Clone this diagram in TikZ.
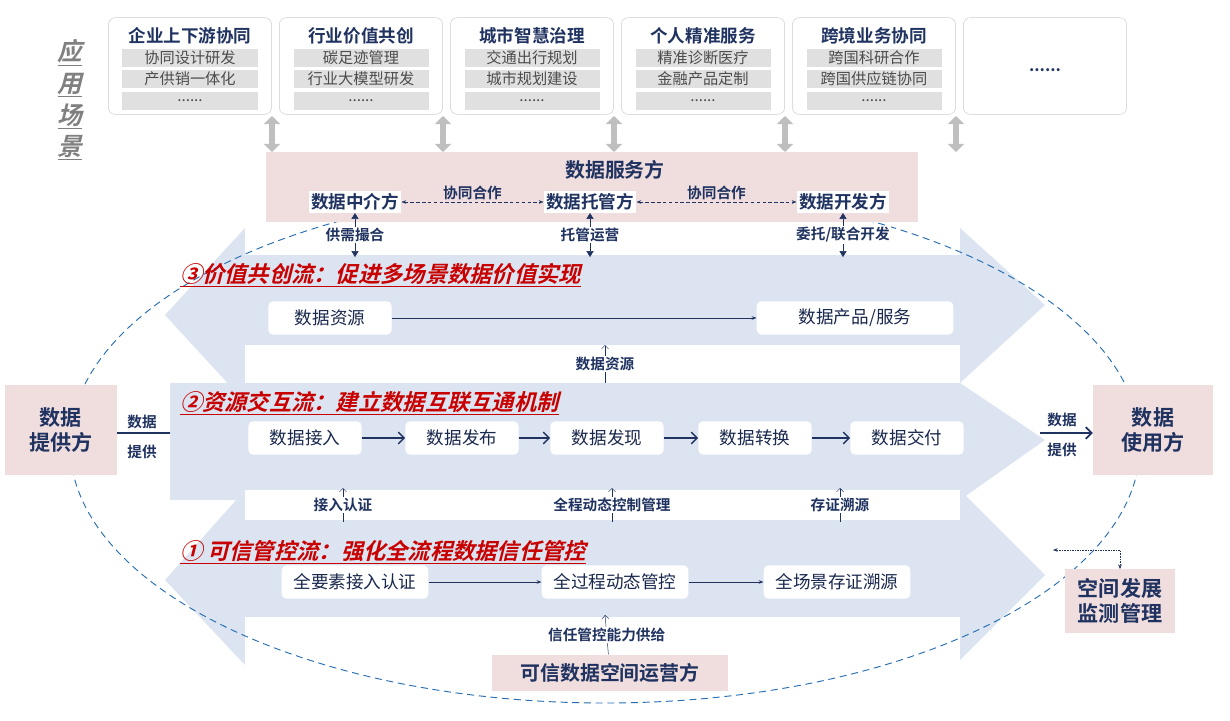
\documentclass[tikz,border=0pt]{standalone}
\usepackage{fontspec}
\setmainfont{Noto Sans CJK SC}[BoldFont={Noto Sans CJK SC Bold},ItalicFont={Noto Sans CJK SC},ItalicFeatures={FakeSlant=0.25},BoldItalicFont={Noto Sans CJK SC Bold},BoldItalicFeatures={FakeSlant=0.25}]
\usetikzlibrary{arrows.meta, positioning}
\definecolor{navy}{RGB}{31,50,96}
\definecolor{bandblue}{RGB}{219,228,240}
\definecolor{rosy}{RGB}{240,222,222}
\definecolor{redtitle}{RGB}{200,0,0}
\definecolor{ringblue}{RGB}{40,110,180}
\tikzset{
  card/.style={draw=black!20, rounded corners=6pt, fill=white, minimum width=4.9cm, minimum height=2.9cm},
  row/.style={fill=black!12, minimum width=4.05cm, minimum height=0.52cm, inner sep=0pt, font=\fontsize{13}{13}\selectfont, text=black!70},
  head/.style={font=\bfseries\fontsize{15}{15}\selectfont, text=navy},
  wbox/.style={fill=white, rounded corners=4pt, minimum height=1.0cm, inner xsep=8pt, font=\fontsize{15}{15}\selectfont, text=navy!80!black},
  rbox/.style={fill=rosy, font=\bfseries\fontsize{18}{21}\selectfont, text=navy, align=center},
  tag/.style={font=\bfseries\fontsize{12.5}{12.5}\selectfont, text=navy, fill=white, inner sep=1pt},
  flowtitle/.style={anchor=west, font=\bfseries\itshape\fontsize{19}{19}\selectfont, text=redtitle},
  role/.style={fill=white, inner sep=2pt, font=\bfseries\fontsize{15}{15}\selectfont, text=navy},
  band/.style={fill=bandblue},
  gap/.style={fill=white}
}
\begin{document}
\begin{tikzpicture}[x=0.03cm, y=-0.03cm]
\useasboundingbox (0,0) rectangle (1230,720);
% bands
\fill[band] (165,315) -- (245,228) -- (960,228) -- (1045,305) -- (960,383) -- (245,383) -- (245,402) -- cycle;
\fill[band] (170,383) -- (960,383) -- (1045,440) -- (960,500) -- (170,500) -- cycle;
\fill[band] (165,580) -- (245,490) -- (960,490) -- (1045,575) -- (960,660) -- (245,665) -- cycle;
\fill[gap] (245,222) rectangle (960,255);
\fill[gap] (245,345) rectangle (960,383);
\fill[gap] (245,490) rectangle (960,520);
\fill[gap] (245,617) rectangle (960,665);
% ring
\draw[ringblue, dashed, dash pattern=on 6pt off 4pt, line width=0.8pt] (605,445) ellipse [x radius=535, y radius=258];
% scenarios
\node[text=black!50, font=\bfseries\itshape\fontsize{21}{27}\selectfont, align=center] (scene) at (70,100) {\underline{应}\\\underline{用}\\\underline{场}\\\underline{景}};
\foreach \cx/\t/\a/\b [count=\i] in {190/企业上下游协同/协同设计研发/产供销一体化, 361/行业价值共创/碳足迹管理/行业大模型研发, 532/城市智慧治理/交通出行规划/城市规划建设, 703/个人精准服务/精准诊断医疗/金融产品定制, 874/跨境业务协同/跨国科研合作/跨国供应链协同} {
  \node[card] (c\i) at (\cx,66) {};
  \node[head] at (\cx,36) {\t};
  \node[row] at (\cx,58) {\a};
  \node[row] at (\cx,79) {\b};
  \node[row] at (\cx,101) {......};
}
\node[card] (c6) at (1045,66) {};
\node[font=\bfseries\fontsize{14}{14}\selectfont, text=navy] at (1045,70) {......};
\foreach \gx in {272,443,614,785,956}
  \draw[line width=5pt, black!25, {Triangle[width=14pt,length=7pt]}-{Triangle[width=14pt,length=7pt]}] (\gx,116) -- (\gx,152);
% service side
\node[fill=rosy, minimum width=19.56cm, minimum height=2.1cm] (svc) at (592,187) {};
\node[head, font=\bfseries\fontsize{17}{17}\selectfont] at (615,170) {数据服务方};
\node[role] (mid) at (355,202) {数据中介方};
\node[role] (host) at (590,202) {数据托管方};
\node[role] (dev) at (843,202) {数据开发方};
\draw[navy, densely dashed, {Stealth[length=4pt]}-{Stealth[length=4pt]}] (mid) -- node[tag, fill=none, above=1pt] {协同合作} (host);
\draw[navy, densely dashed, {Stealth[length=4pt]}-{Stealth[length=4pt]}] (host) -- node[tag, fill=none, above=1pt] {协同合作} (dev);
\foreach \n/\t in {mid/{供需撮合}, host/{托管运营}, dev/{委托/联合开发}} {
  \coordinate (\n-b) at (\n.south |- 0,257);
  \draw[navy, {Triangle[length=5pt,width=6pt]}-{Triangle[length=5pt,width=6pt]}] (\n.south) -- node[tag] {\t} (\n-b);
}
% flow 3
\node[flowtitle] at (176,275) {\underline{③价值共创流：促进多场景数据价值实现}};
\node[wbox, minimum width=3.7cm] (res) at (330,318) {数据资源};
\node[wbox, minimum width=5.9cm] (prod) at (855,318) {数据产品/服务};
\draw[navy, -{Stealth[length=4pt]}] (res) -- (prod);
\coordinate (up3a) at (605,383);
\coordinate (up3b) at (605,345);
\draw[navy, -{Straight Barb[length=3pt]}] (up3a) -- node[tag] {数据资源} (up3b);
% flow 2
\node[flowtitle] at (176,403) {\underline{②资源交互流：建立数据互联互通机制}};
\foreach \fx/\t [count=\i] in {305/数据接入, 462/数据发布, 607/数据发现, 755/数据转换, 907/数据交付}
  \node[wbox, minimum width=3.4cm] (f\i) at (\fx,438) {\t};
\foreach \i [evaluate=\i as \j using int(\i+1)] in {1,...,4}
  \draw[navy, line width=1.2pt, -{Straight Barb[length=5pt]}] (f\i) -- (f\j);
\foreach \tx/\t [count=\i] in {343/接入认证, 612/全程动态控制管理, 840/存证溯源} {
  \coordinate (lo\i) at (\tx,522);
  \coordinate (hi\i) at (\tx,488);
  \draw[navy, -{Straight Barb[length=3pt]}] (lo\i) -- node[tag] {\t} (hi\i);
}
% flow 1
\node[flowtitle] at (176,552) {\underline{① 可信管控流：强化全流程数据信任管控}};
\node[wbox, minimum width=4.4cm] (t1) at (355,582) {全要素接入认证};
\node[wbox, minimum width=4.4cm] (t2) at (615,582) {全过程动态管控};
\node[wbox, minimum width=4.4cm] (t3) at (837,582) {全场景存证溯源};
\draw[navy, -{Stealth[length=4pt]}] (t1) -- (t2);
\draw[navy, -{Stealth[length=4pt]}] (t2) -- (t3);
% operator
\node[rbox, minimum width=7.1cm, minimum height=1.1cm, font=\bfseries\fontsize{17}{17}\selectfont] (op) at (610,673) {可信数据空间运营方};
\coordinate (up1) at (605,615);
\draw[navy, -{Straight Barb[length=3pt]}] (op) -- node[tag] {信任管控能力供给} (up1);
% provider and user
\node[rbox, minimum width=3.36cm, minimum height=2.7cm] (prov) at (61,430) {数据\\提供方};
\node[rbox, minimum width=3.6cm, minimum height=2.7cm] (user) at (1153,430) {数据\\使用方};
\coordinate (in2) at (170,433);
\draw[navy, line width=1.5pt] (prov.east |- in2) -- (in2);
\node[tag, fill=none] at (142,422) {数据};
\node[tag, fill=none] at (142,452) {提供};
\coordinate (out2) at (1040,433);
\draw[navy, line width=1.5pt, -{Straight Barb[length=5pt]}] (out2) -- (user.west |- out2);
\node[tag, fill=none] at (1062,420) {数据};
\node[tag, fill=none] at (1062,450) {提供};
% monitor
\node[rbox, minimum width=3.3cm, minimum height=1.9cm] (mon) at (1120,601) {空间发展\\监测管理};
\coordinate (mk) at (1120,550);
\coordinate (ml) at (1053,550);
\draw[navy, densely dotted, {Stealth[length=4pt]}-{Stealth[length=4pt]}] (mon.north) -- (mk) -- (ml);
\end{tikzpicture}
\end{document}
